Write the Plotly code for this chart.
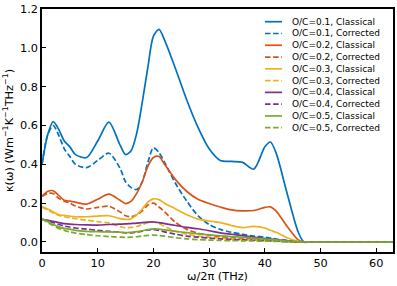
import plotly.graph_objects as go

freq = [0, 1, 2, 3, 4, 5, 6, 8, 10, 12, 14, 15, 16, 17, 18, 19, 20, 21, 22, 24,
        26, 28, 30, 32, 34, 36, 38, 40, 41, 42, 44, 46, 47, 48, 50, 63]

oc01_classical = [0.40, 0.55, 0.62, 0.58, 0.52, 0.49, 0.45, 0.435, 0.52, 0.617, 0.50, 0.45, 0.47, 0.56, 0.72, 0.90,
                  1.06, 1.095, 1.04, 0.89, 0.73, 0.59, 0.48, 0.42, 0.415, 0.41, 0.375, 0.49, 0.515, 0.46, 0.25, 0.05,
                  0.0, 0.0, 0.0, 0.0]
oc01_corrected = [0.40, 0.55, 0.60, 0.55, 0.48, 0.44, 0.40, 0.383, 0.42, 0.457, 0.38, 0.31, 0.28, 0.27, 0.31, 0.41,
                  0.485, 0.46, 0.41, 0.30, 0.21, 0.135, 0.09, 0.065, 0.05, 0.04, 0.03, 0.025, 0.02, 0.015, 0.008, 0.002,
                  0.0, 0.0, 0.0, 0.0]
oc02_classical = [0.236, 0.26, 0.264, 0.24, 0.215, 0.21, 0.205, 0.195, 0.22, 0.246, 0.215, 0.198, 0.21, 0.25, 0.31, 0.39,
                  0.435, 0.44, 0.40, 0.32, 0.26, 0.22, 0.198, 0.18, 0.165, 0.16, 0.162, 0.178, 0.181, 0.16, 0.08, 0.01,
                  0.0, 0.0, 0.0, 0.0]
oc02_corrected = [0.236, 0.25, 0.25, 0.225, 0.21, 0.20, 0.185, 0.17, 0.178, 0.184, 0.155, 0.135, 0.13, 0.14, 0.16, 0.19,
                  0.20, 0.18, 0.155, 0.10, 0.065, 0.045, 0.035, 0.027, 0.022, 0.018, 0.015, 0.012, 0.01, 0.008, 0.004,
                  0.001, 0.0, 0.0, 0.0, 0.0]
oc03_classical = [0.181, 0.17, 0.155, 0.14, 0.137, 0.133, 0.13, 0.13, 0.133, 0.135, 0.12, 0.116, 0.12, 0.14, 0.17, 0.205,
                  0.222, 0.218, 0.20, 0.17, 0.14, 0.118, 0.108, 0.10, 0.085, 0.074, 0.08, 0.072, 0.06, 0.05, 0.022, 0.003,
                  0.0, 0.0, 0.0, 0.0]
oc03_corrected = [0.18, 0.165, 0.15, 0.138, 0.13, 0.125, 0.12, 0.112, 0.105, 0.098, 0.08, 0.073, 0.075, 0.08, 0.09, 0.10,
                  0.103, 0.095, 0.08, 0.055, 0.04, 0.03, 0.025, 0.02, 0.016, 0.013, 0.01, 0.008, 0.007, 0.005, 0.002, 0.0,
                  0.0, 0.0, 0.0, 0.0]
oc04_classical = [0.117, 0.112, 0.107, 0.10, 0.095, 0.092, 0.09, 0.088, 0.087, 0.09, 0.092, 0.093, 0.095, 0.097, 0.10,
                  0.102, 0.103, 0.10, 0.095, 0.085, 0.075, 0.068, 0.058, 0.047, 0.04, 0.033, 0.025, 0.018, 0.015, 0.012,
                  0.005, 0.001, 0.0, 0.0, 0.0, 0.0]
oc04_corrected = [0.117, 0.11, 0.10, 0.09, 0.082, 0.077, 0.072, 0.066, 0.06, 0.055, 0.05, 0.047, 0.047, 0.05, 0.056, 0.062,
                  0.064, 0.06, 0.052, 0.04, 0.03, 0.025, 0.02, 0.016, 0.013, 0.011, 0.009, 0.007, 0.006, 0.005, 0.002,
                  0.0, 0.0, 0.0, 0.0, 0.0]
oc05_classical = [0.12, 0.105, 0.09, 0.078, 0.07, 0.066, 0.06, 0.055, 0.053, 0.052, 0.05, 0.048, 0.05, 0.053, 0.058, 0.064,
                  0.067, 0.066, 0.062, 0.055, 0.048, 0.042, 0.037, 0.032, 0.028, 0.024, 0.02, 0.015, 0.013, 0.011, 0.005,
                  0.001, 0.0, 0.0, 0.0, 0.0]
oc05_corrected = [0.12, 0.10, 0.085, 0.07, 0.06, 0.052, 0.046, 0.038, 0.032, 0.028, 0.025, 0.024, 0.025, 0.027, 0.031,
                  0.034, 0.035, 0.033, 0.03, 0.022, 0.016, 0.012, 0.01, 0.008, 0.007, 0.006, 0.005, 0.004, 0.004, 0.003,
                  0.001, 0.0, 0.0, 0.0, 0.0, 0.0]

series_names = ["O/C=0.1, Classical", "O/C=0.1, Corrected",
                "O/C=0.2, Classical", "O/C=0.2, Corrected",
                "O/C=0.3, Classical", "O/C=0.3, Corrected",
                "O/C=0.4, Classical", "O/C=0.4, Corrected",
                "O/C=0.5, Classical", "O/C=0.5, Corrected"]
series_values = [oc01_classical, oc01_corrected, oc02_classical, oc02_corrected,
                 oc03_classical, oc03_corrected, oc04_classical, oc04_corrected,
                 oc05_classical, oc05_corrected]

x_ticks = [0, 10, 20, 30, 40, 50, 60]
y_ticks = [0.0, 0.2, 0.4, 0.6, 0.8, 1.0, 1.2]

colors = ["#0072BD", "#D95319", "#EDB120", "#7E2F8E", "#77AC30"]
DASH = "5.5px,2.6px"
LW = 1.7
FONT = "DejaVu Sans"

fig = go.Figure()
for i, (name, vals) in enumerate(zip(series_names, series_values)):
    col = colors[i // 2]
    dash = "solid" if i % 2 == 0 else DASH
    fig.add_trace(go.Scatter(x=freq, y=vals, mode="lines", name=name,
                             line=dict(color=col, width=LW, dash=dash, shape="spline", smoothing=0.8),
                             showlegend=False))

# Legend drawn as layout shapes + text annotations (compact matplotlib-style spacing)
W, H = 397, 286
ml, mr, mt, mb = 42, 4, 9, 34
pw, ph = W - ml - mr, H - mt - mb

def px2paper(xp, yp):
    return (xp - ml) / pw, 1 - (yp - mt) / ph

shapes = []
annotations = []
for i, name in enumerate(series_names):
    col = colors[i // 2]
    dash = "solid" if i % 2 == 0 else DASH
    yp = 21.7 + i * 11.78
    x0, y0 = px2paper(265, yp)
    x1, _ = px2paper(282, yp)
    shapes.append(dict(type="line", xref="paper", yref="paper", x0=x0, x1=x1, y0=y0, y1=y0,
                       line=dict(color=col, width=LW, dash=dash)))
    xt, _ = px2paper(289.5, yp)
    annotations.append(dict(xref="paper", yref="paper", x=xt, y=y0, text=name, showarrow=False,
                            xanchor="left", yanchor="middle", font=dict(family=FONT, size=9.0, color="#000")))

fig.update_layout(
    width=W, height=H,
    margin=dict(l=ml, r=mr, t=mt, b=mb, pad=0, autoexpand=False),
    paper_bgcolor="white", plot_bgcolor="white",
    font=dict(family=FONT, size=11, color="black"),
    shapes=shapes, annotations=annotations,
    showlegend=False,
)
fig.update_xaxes(range=[0, 63], tickvals=x_ticks, ticktext=[str(v) for v in x_ticks], automargin=False,
                 showgrid=False, zeroline=False, showline=True, linecolor="black", linewidth=1.5,
                 mirror=True, ticks="inside", ticklen=4, tickwidth=1, tickcolor="black",
                 tickfont=dict(size=11.3),
                 title=dict(text="ω/2π (THz)", font=dict(size=11.3), standoff=2))
fig.update_yaxes(range=[-0.0516, 1.2], tickvals=y_ticks, ticktext=[f"{v:.1f}" for v in y_ticks], automargin=False,
                 showgrid=False, zeroline=False, showline=True, linecolor="black", linewidth=1.5,
                 mirror=True, ticks="inside", ticklen=4, tickwidth=1, tickcolor="black",
                 tickfont=dict(size=11.3),
                 title=dict(text="κ(ω) (Wm<sup>−1</sup>K<sup>−1</sup>THz<sup>−1</sup>)", font=dict(size=11.3),
                            standoff=4))

fig.write_html("out.html", config={"displayModeBar": False},
               post_script="document.body.style.margin='0';document.body.style.overflow='hidden';")
